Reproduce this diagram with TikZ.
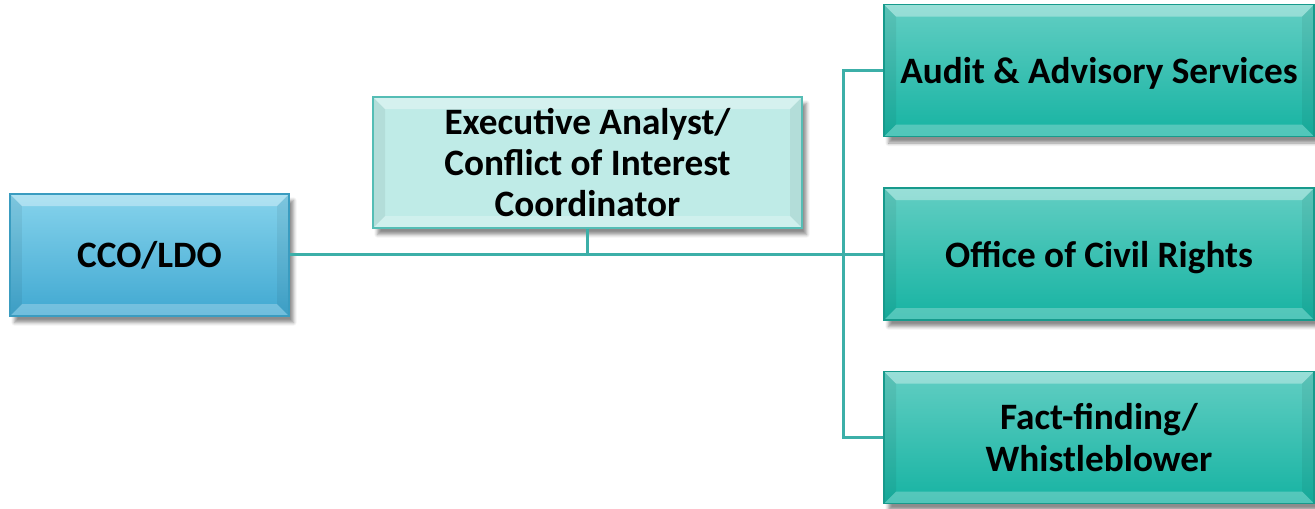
\documentclass[tikz,border=0pt]{standalone}
\usepackage{fontspec}
\setmainfont{Carlito}
\usetikzlibrary{shadows.blur}

\definecolor{ccotop}{HTML}{86D3EC}
\definecolor{ccobot}{HTML}{40A8D1}
\definecolor{ccoline}{HTML}{3A9CC0}
\definecolor{analyst}{HTML}{BFEBE7}
\definecolor{analystline}{HTML}{55BDB5}
\definecolor{unittop}{HTML}{62CEC3}
\definecolor{unitbot}{HTML}{16B3A2}
\definecolor{unitline}{HTML}{179A8C}
\definecolor{link}{HTML}{3CAFA8}

\tikzset{
  bevel/.style={path picture={
    \fill[white,opacity=.35] (path picture bounding box.north west) -- (path picture bounding box.north east)
      -- ([shift={(-2.4mm,-2.4mm)}]path picture bounding box.north east) -- ([shift={(2.4mm,-2.4mm)}]path picture bounding box.north west) -- cycle;
    \fill[white,opacity=.25] (path picture bounding box.south west) -- (path picture bounding box.south east)
      -- ([shift={(-2.4mm,2.4mm)}]path picture bounding box.south east) -- ([shift={(2.4mm,2.4mm)}]path picture bounding box.south west) -- cycle;
    \fill[black,opacity=.06] (path picture bounding box.north west) -- ([shift={(2.4mm,-2.4mm)}]path picture bounding box.north west)
      -- ([shift={(2.4mm,2.4mm)}]path picture bounding box.south west) -- (path picture bounding box.south west) -- cycle;
    \fill[black,opacity=.06] (path picture bounding box.north east) -- ([shift={(-2.4mm,-2.4mm)}]path picture bounding box.north east)
      -- ([shift={(-2.4mm,2.4mm)}]path picture bounding box.south east) -- (path picture bounding box.south east) -- cycle;
  }},
  box/.style={rectangle, line width=0.3mm, align=center, inner sep=0pt,
    font=\fontsize{21.2}{23.4}\selectfont\bfseries, bevel,
    blur shadow={shadow xshift=0.9mm, shadow yshift=-1.3mm, shadow blur steps=6, shadow opacity=45}},
  ccobox/.style={box, draw=ccoline, top color=ccotop, bottom color=ccobot,
    minimum width=55.8mm, minimum height=24.4mm},
  analystbox/.style={box, draw=analystline, fill=analyst,
    minimum width=85.8mm, minimum height=26.2mm},
  unitbox/.style={box, draw=unitline, top color=unittop, bottom color=unitbot,
    minimum width=86mm, minimum height=26.4mm},
  link/.style={draw=link, line width=0.6mm}
}

\begin{document}
\begin{tikzpicture}[x=0.2mm, y=-0.2mm]
  \useasboundingbox (0,0) rectangle (1315,508);

  \node[ccobox] (cco) at (149.5,255) {CCO/LDO};
  \node[analystbox] (analyst) at (587.5,162.5) {Executive Analyst/\\Conflict of Interest\\Coordinator};

  \node[unitbox, text depth=0pt] (audit) at (1099,70.5) {Audit \& Advisory Services};
  \node[unitbox, text depth=0pt] (civil) at (1099,254) {Office of Civil Rights};
  \node[unitbox] (fact) at (1099,437.5) {Fact-finding/\\Whistleblower};

  % main line and the bus to the units
  \coordinate (bus) at (843,254);
  \draw[link] (cco.east |- civil.west) -- (civil.west);
  \draw[link] (analyst.south) -- (analyst.south |- bus);
  \draw[link] (audit.west) -| (bus) |- (fact.west);
\end{tikzpicture}
\end{document}
